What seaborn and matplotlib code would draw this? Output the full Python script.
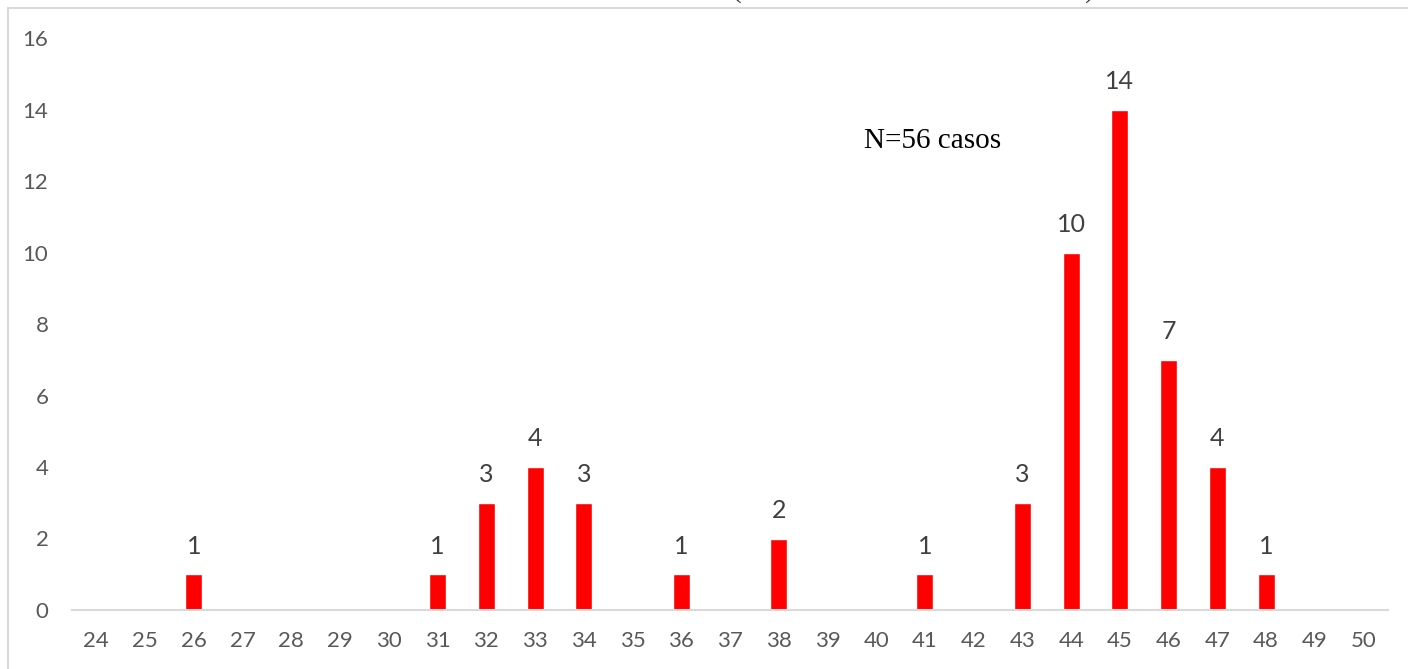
import matplotlib
matplotlib.use("Agg")
import matplotlib.pyplot as plt
import seaborn as sns
import pandas as pd
from matplotlib.patches import Rectangle

# Age (weeks) categories and case counts
ages = [str(a) for a in range(24, 51)]
counts = [0, 0, 1, 0, 0, 0, 0, 1, 3, 4, 3, 0, 1, 0, 2, 0, 0, 1, 0, 3, 10, 14, 7, 4, 1, 0, 0]
y_ticks = [0, 2, 4, 6, 8, 10, 12, 14, 16]
note = "N=56 casos"

sns.set_theme(style="white")
plt.rcParams["font.family"] = ["Lato", "DejaVu Sans"]

df = pd.DataFrame({"edad": ages, "casos": counts})

fig = plt.figure(figsize=(14.08, 6.69), dpi=100)
ax = fig.add_axes([72 / 1408, 59 / 669, 1316 / 1408, 572 / 669])

sns.barplot(data=df, x="edad", y="casos", order=ages, color="#FF0000",
            saturation=1, width=0.35, ax=ax)

ax.set_xlim(-0.5, len(ages) - 0.5)
ax.set_ylim(0, 16)
ax.set_yticks(y_ticks)
ax.set_xlabel("")
ax.set_ylabel("")
for s in ["top", "right", "left"]:
    ax.spines[s].set_visible(False)
ax.spines["bottom"].set_color("#d9d9d9")
ax.spines["bottom"].set_linewidth(1.5)
ax.tick_params(axis="both", length=0, labelcolor="#595959", labelsize=16)
ax.tick_params(axis="x", pad=15)
ax.tick_params(axis="y", pad=17)
ax.grid(False)

# value labels on non-empty bars
bars = ax.containers[0]
labels = [str(v) if v > 0 else "" for v in counts]
ax.bar_label(bars, labels=labels, padding=12, fontsize=18, color="#404040")

ax.text(15.75, 12.92, note, fontsize=21, family="Liberation Serif",
        color="black", ha="left", va="baseline")

# chart frame and clipped title brackets at the top edge
fig.patches.append(Rectangle((8 / 1408, -0.1), 1.2, 1 - 8 / 669 + 0.1,
                             transform=fig.transFigure, fill=False,
                             edgecolor="#d9d9d9", linewidth=1.5))
fig.text(737 / 1408, 1 + 10 / 669, "(", fontsize=21, family="Liberation Serif",
         ha="center", va="center", color="#404040")
fig.text(1090 / 1408, 1 + 10 / 669, ")", fontsize=21, family="Liberation Serif",
         ha="center", va="center", color="#404040")

fig.savefig("out.png", dpi=100)
